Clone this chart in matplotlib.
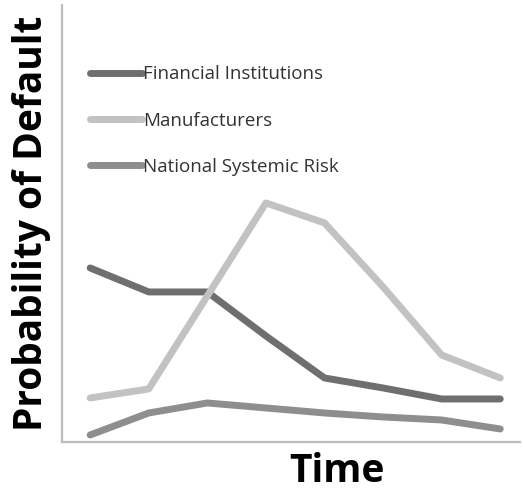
import matplotlib
matplotlib.use("Agg")
import matplotlib.pyplot as plt

# time steps (no tick labels on the chart)
periods = [0, 1, 2, 3, 4, 5, 6, 7]

financial = [17.4, 15.0, 15.0, 10.6, 6.4, 5.4, 4.3, 4.3]
manufacturers = [4.4, 5.3, 14.6, 23.9, 21.9, 15.5, 8.7, 6.4]
national = [0.7, 2.9, 3.9, 3.4, 2.9, 2.5, 2.2, 1.3]

plt.rcParams['font.family'] = ['Open Sans', 'DejaVu Sans']

fig = plt.figure(figsize=(5.23, 4.9), dpi=100)
ax = fig.add_axes([0.1186, 0.098, 0.876, 0.892])

lw = 5
ax.plot(periods, financial, color="#6f6f6f", linewidth=lw,
        solid_capstyle="round", solid_joinstyle="round", label="Financial Institutions")
ax.plot(periods, manufacturers, color="#c2c2c2", linewidth=lw,
        solid_capstyle="round", solid_joinstyle="round", label="Manufacturers")
ax.plot(periods, national, color="#8e8e8e", linewidth=lw,
        solid_capstyle="round", solid_joinstyle="round", label="National Systemic Risk")

ax.set_xlim(-0.48, 7.34)
ax.set_ylim(0, 43.7)
ax.set_xticks([])
ax.set_yticks([])
for side in ["top", "right"]:
    ax.spines[side].set_visible(False)
for side in ["left", "bottom"]:
    ax.spines[side].set_color("#bdbdbd")
    ax.spines[side].set_linewidth(1.6)

ax.set_xlabel("Time", fontsize=28, fontweight="bold")
ax.xaxis.set_label_coords(0.60, -0.0915, transform=ax.transAxes)
ax.xaxis.label.set_va("baseline")
ax.set_ylabel("Probability of Default", fontsize=28, fontweight="bold", labelpad=8)

leg = ax.legend(loc="upper left", bbox_to_anchor=(0.025, 0.90), frameon=False,
                fontsize=13.5, handlelength=2.75, handletextpad=0.05,
                labelspacing=1.5)
for t in leg.get_texts():
    t.set_color("#333333")

fig.savefig("out.png", dpi=100)
